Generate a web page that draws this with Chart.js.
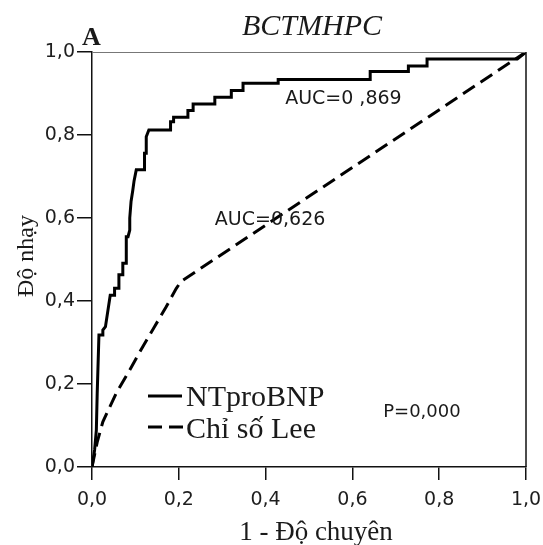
<!DOCTYPE html>
<html>
<head>
<meta charset="utf-8">
<script src="https://cdn.jsdelivr.net/npm/chart.js@4.4.0/dist/chart.umd.min.js"></script>
<style>
  html, body { margin: 0; padding: 0; background: #fff; }
  #wrap { width: 543px; height: 545px; position: relative; }
</style>
</head>
<body>
<div id="wrap"><canvas id="roc" width="543" height="545"></canvas></div>
<script>
  // ---------------------------
  // Data
  // ---------------------------
  const ntX = [0, 0.006, 0.01, 0.012, 0.016, 0.025, 0.025, 0.031, 0.042, 0.052, 0.052, 0.062, 0.062, 0.071, 0.071, 0.079, 0.079, 0.083, 0.087, 0.087, 0.09, 0.094, 0.097, 0.102, 0.121, 0.121, 0.125, 0.125, 0.131, 0.181, 0.181, 0.188, 0.188, 0.221, 0.221, 0.233, 0.233, 0.283, 0.283, 0.321, 0.321, 0.348, 0.348, 0.429, 0.429, 0.641, 0.641, 0.729, 0.729, 0.772, 0.772, 0.98, 1];
  const ntY = [0, 0.041, 0.089, 0.178, 0.318, 0.318, 0.33, 0.338, 0.414, 0.414, 0.431, 0.431, 0.463, 0.463, 0.491, 0.491, 0.555, 0.555, 0.571, 0.6, 0.64, 0.667, 0.69, 0.716, 0.716, 0.756, 0.756, 0.796, 0.812, 0.812, 0.832, 0.832, 0.843, 0.843, 0.859, 0.859, 0.875, 0.875, 0.891, 0.891, 0.907, 0.907, 0.925, 0.925, 0.934, 0.934, 0.953, 0.953, 0.966, 0.966, 0.983, 0.983, 1];

  const leeX = [0, 0.012, 0.025, 0.056, 0.087, 0.117, 0.144, 0.171, 0.194, 0.205, 1];
  const leeY = [0, 0.06, 0.109, 0.178, 0.234, 0.29, 0.338, 0.386, 0.43, 0.447, 1];

  const seriesNames = ["NTproBNP", "Chỉ số Lee"];
  const aucLabels = ["AUC=0 ,869", "AUC=0,626"];
  const pLabel = "P=0,000";
  const chartTitle = "BCTMHPC";
  const panelLabel = "A";
  const xTitle = "1 - Độ chuyên";
  const yTitle = "Độ nhạy";
  const tickValues = [0, 0.2, 0.4, 0.6, 0.8, 1.0];

  function toPoints(xs, ys) {
    return xs.map((x, i) => ({ x: x, y: ys[i] }));
  }

  function fmtTick(v) {
    return v.toFixed(1).replace(".", ",");
  }

  // ---------------------------
  // Text, legend and frame
  // ---------------------------
  const decorPlugin = {
    id: "decor",
    afterDraw(chart) {
      const ctx = chart.ctx;
      const area = chart.chartArea;
      const xs = chart.scales.x;
      const ys = chart.scales.y;
      ctx.save();

      // top and right frame
      ctx.lineWidth = 1;
      ctx.strokeStyle = "#777";
      ctx.beginPath();
      ctx.moveTo(area.left, area.top + 0.5);
      ctx.lineTo(area.right, area.top + 0.5);
      ctx.stroke();
      ctx.lineWidth = 1.5;
      ctx.strokeStyle = "#111";
      ctx.beginPath();
      ctx.moveTo(area.right, area.top);
      ctx.lineTo(area.right, area.bottom);
      ctx.stroke();

      ctx.fillStyle = "#1a1a1a";
      ctx.textBaseline = "alphabetic";

      // title + panel letter
      ctx.font = "italic 30px 'Liberation Serif'";
      ctx.textAlign = "center";
      ctx.fillText(chartTitle, 312, 35);
      ctx.font = "bold 26px 'Liberation Serif'";
      ctx.textAlign = "left";
      ctx.fillText(panelLabel, 82, 45);

      // axis titles
      ctx.font = "27px 'Liberation Serif'";
      ctx.textAlign = "center";
      ctx.fillText(xTitle, 316, 540);
      ctx.save();
      ctx.translate(33, 256);
      ctx.rotate(-Math.PI / 2);
      ctx.font = "24px 'Liberation Serif'";
      ctx.fillText(yTitle, 0, 0);
      ctx.restore();

      // AUC / P annotations
      ctx.font = "19px 'DejaVu Sans'";
      ctx.textAlign = "left";
      ctx.fillText(aucLabels[0], xs.getPixelForValue(0.445), ys.getPixelForValue(0.875));
      ctx.fillText(aucLabels[1], xs.getPixelForValue(0.283), ys.getPixelForValue(0.583));
      ctx.font = "18px 'DejaVu Sans'";
      ctx.fillText(pLabel, xs.getPixelForValue(0.671), ys.getPixelForValue(0.12));

      // legend
      ctx.strokeStyle = "#000";
      ctx.lineWidth = 3;
      ctx.beginPath();
      ctx.moveTo(148, 396);
      ctx.lineTo(182, 396);
      ctx.stroke();
      ctx.setLineDash([14, 7]);
      ctx.beginPath();
      ctx.moveTo(148, 427);
      ctx.lineTo(183, 427);
      ctx.stroke();
      ctx.setLineDash([]);
      ctx.font = "30px 'Liberation Serif'";
      ctx.fillText(seriesNames[0], 186, 406);
      ctx.fillText(seriesNames[1], 186, 438);

      ctx.restore();
    }
  };

  // ---------------------------
  // Chart
  // ---------------------------
  const axisCommon = {
    type: "linear",
    min: 0,
    max: 1,
    afterBuildTicks: (s) => {
      s.ticks = tickValues.map((v) => ({ value: v }));
    },
    border: { display: true, color: "#111", width: 1.5 },
    ticks: {
      color: "#1e1e1e",
      font: { family: "DejaVu Sans", size: 19 },
      callback: (v) => fmtTick(v)
    }
  };

  new Chart(document.getElementById("roc").getContext("2d"), {
    type: "scatter",
    data: {
      datasets: [
        {
          label: seriesNames[0],
          data: toPoints(ntX, ntY),
          showLine: true,
          borderColor: "#000",
          borderWidth: 3,
          pointRadius: 0,
          tension: 0
        },
        {
          label: seriesNames[1],
          data: toPoints(leeX, leeY),
          showLine: true,
          borderColor: "#000",
          borderWidth: 3,
          borderDash: [14, 7],
          pointRadius: 0,
          tension: 0
        }
      ]
    },
    options: {
      responsive: false,
      animation: false,
      layout: { padding: { top: 52, right: 17, left: 0, bottom: 0 } },
      plugins: { legend: { display: false }, tooltip: { enabled: false } },
      scales: {
        x: {
          ...axisCommon,
          afterFit: (s) => {
            s.height = 78;
            s.paddingLeft = 0;
            s.paddingRight = 0;
          },
          grid: { drawOnChartArea: false, color: "#111", lineWidth: 1.5, tickLength: 13 },
          ticks: { ...axisCommon.ticks, padding: 9, maxRotation: 0 }
        },
        y: {
          ...axisCommon,
          afterFit: (s) => {
            s.width = 92;
            s.paddingTop = 0;
            s.paddingBottom = 0;
          },
          grid: { drawOnChartArea: false, color: "#111", lineWidth: 1.5, tickLength: 15 },
          ticks: { ...axisCommon.ticks, padding: 2 }
        }
      }
    },
    plugins: [decorPlugin]
  });
</script>
</body>
</html>
